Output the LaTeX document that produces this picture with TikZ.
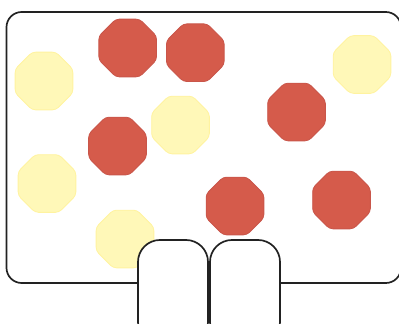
\documentclass[tikz,border=0pt]{standalone}
\definecolor{tomato}{HTML}{D55B4B}
\definecolor{tomatoedge}{HTML}{C9564A}
\definecolor{butter}{HTML}{FFF8B8}
\definecolor{butteredge}{HTML}{FFF3A0}
\definecolor{ink}{HTML}{222222}
\usetikzlibrary{shapes.geometric,positioning}

\begin{document}
\begin{tikzpicture}[x=0.025cm, y=-0.025cm,
  oct/.style={regular polygon, regular polygon sides=8, minimum size=1.56cm, inner sep=0pt, rounded corners=2.5pt, line width=0.6pt},
  redoct/.style={oct, fill=tomato, draw=tomatoedge},
  yellowoct/.style={oct, fill=butter, draw=butteredge},
  slot/.style={rectangle, rounded corners=0.55cm, draw=ink, fill=white, line width=1.2pt, minimum width=1.75cm, minimum height=2.6cm, inner sep=0pt}]
\clip (0,0) rectangle (399,323);
% tray
\draw[ink, line width=1.2pt, rounded corners=0.38cm] (6.5,12) rectangle (401,283);
% counters
\node[yellowoct] (y1) at (44,81) {};
\node[yellowoct] (y2) at (180.5,125) {};
\node[yellowoct] (y3) at (362,64.5) {};
\node[yellowoct] (y4) at (47,183.5) {};
\node[yellowoct] (y5) at (125,239) {};
\node[redoct] (r1) at (127.7,48) {};
\node[redoct] (r2) at (195.3,52.7) {};
\node[redoct] (r3) at (117.5,146) {};
\node[redoct] (r4) at (296.5,112) {};
\node[redoct] (r5) at (235,206) {};
\node[redoct] (r6) at (341.5,200) {};
% pockets
\node[slot] (slotL) at (173,292) {};
\node[slot] (slotR) at (245,292) {};
\end{tikzpicture}
\end{document}
